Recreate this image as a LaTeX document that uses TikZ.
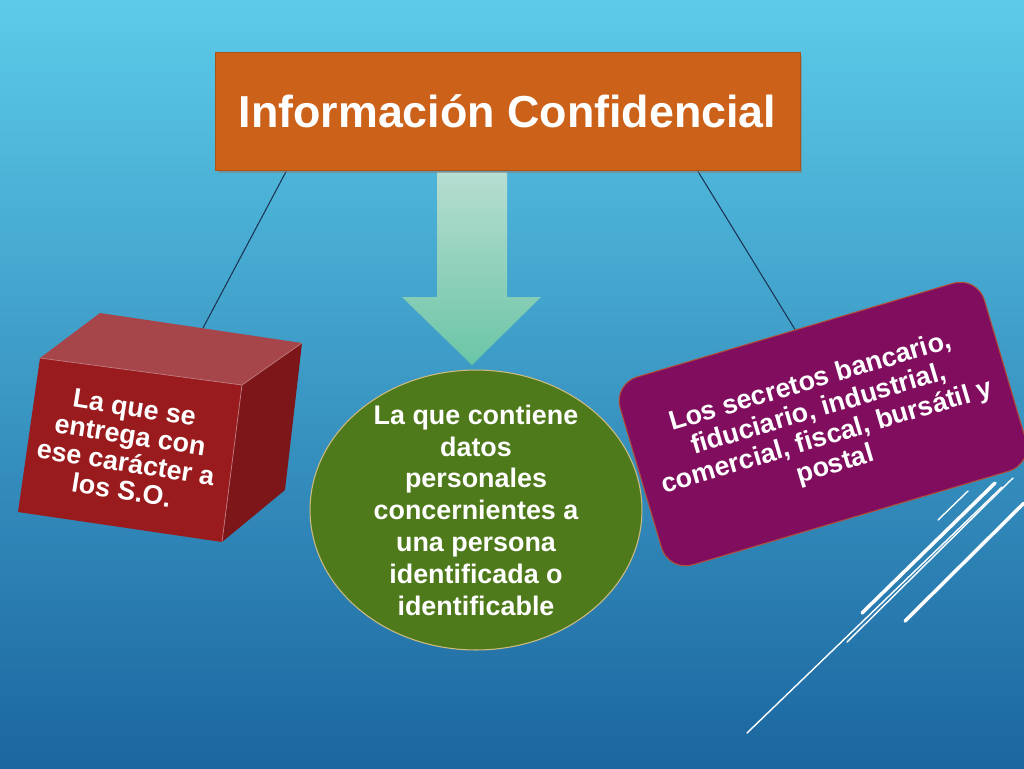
\documentclass[tikz,border=0pt]{standalone}
\usepackage{fontspec}
\setmainfont{Liberation Sans}
\usetikzlibrary{shapes.geometric,shadows,calc}
\definecolor{bgTop}{HTML}{5CCBE9}
\definecolor{bgMid}{HTML}{3A9CCD}
\definecolor{bgBot}{HTML}{1B66A0}
\definecolor{titleOrange}{HTML}{CC6119}
\definecolor{arrowTop}{HTML}{B6DDD1}
\definecolor{arrowBot}{HTML}{6BC5A6}
\definecolor{cubeFront}{HTML}{9A1B1E}
\definecolor{cubeTop}{HTML}{A7464A}
\definecolor{cubeSide}{HTML}{7C1618}
\definecolor{ovalGreen}{HTML}{4F7A1B}
\definecolor{ovalRim}{HTML}{CDBB80}
\definecolor{boxPurple}{HTML}{800D5E}
\definecolor{boxRim}{HTML}{B0503A}
\definecolor{lineNavy}{HTML}{1C3454}
\pgfdeclarelayer{backdrop}
\pgfdeclarelayer{links}
\pgfsetlayers{backdrop,links,main}
\begin{document}
\begin{tikzpicture}
[x=0.02cm,y=-0.02cm,%
  darkLine/.style={-,line width=0.6pt,color=lineNavy},%
  stripeLine/.style={-,color=white,line cap=round},%
  titleDecorate/.style={shape=rectangle,fill=titleOrange,draw=titleOrange!85!black,
    minimum width=11.7cm,minimum height=2.36cm,
    drop shadow={shadow xshift=0.05cm,shadow yshift=-0.07cm,opacity=0.55},
    text=white,font=\bfseries\fontsize{25.5}{30}\selectfont},%
  ovalDecorate/.style={shape=ellipse,fill=ovalGreen,draw=ovalRim,line width=0.6pt,
    minimum width=6.64cm,minimum height=5.6cm,inner sep=0pt},%
  smallText/.style={text=white,align=center,inner sep=0pt},%
  boxDecorate/.style={shape=rectangle,rounded corners=0.5cm,fill=boxPurple,draw=boxRim,
    line width=0.6pt,minimum width=7.6cm,minimum height=3.92cm,rotate=16.5,
    text=white,align=center,font=\bfseries\fontsize{15.3}{16.4}\selectfont}]
\useasboundingbox (0,0) rectangle (1024,768);
%% background
\begin{pgfonlayer}{backdrop}
  \shade[top color=bgTop,middle color=bgMid,bottom color=bgBot] (0,0) rectangle (1024,768);
\end{pgfonlayer}
%% white stripes, bottom right
\foreach \xa/\ya/\xb/\yb/\w in {747/733/1002/487/0.8pt, 862/613/995/483/2pt,
  847/642/1013/478/0.8pt, 905/621/1024/503/2pt, 938/520/968/491/0.8pt}
{
  \draw[stripeLine,line width=\w] (\xa,\ya) -- (\xb,\yb);
}
%% down arrow
\shade[top color=arrowTop,bottom color=arrowBot]
  (437,172) -- (507,172) -- (507,297) -- (541,297) -- (472,365)
  -- (402,297) -- (437,297) -- cycle;
%% nodes
\node (title) at (507.5,111) [titleDecorate] {Información Confidencial};
\node (personal) at (476,510) [ovalDecorate] {};
\node (personaltext) at (personal.center) [smallText,
  font=\bfseries\fontsize{15.3}{18.1}\selectfont]
  {La que contiene\\datos\\personales\\concernientes a\\una persona\\identificada o\\identificable};
\node (secretos) at (823,424) [boxDecorate]
  {Los secretos bancario,\\fiduciario, industrial,\\comercial, fiscal, bursátil y\\postal};
%% cube
\fill[cubeTop] (40,358) -- (100,313) -- (302,343) -- (242,385) -- cycle;
\fill[cubeSide] (242,385) -- (302,343) -- (285,490) -- (222,542) -- cycle;
\fill[cubeFront] (40,358) -- (242,385) -- (222,542) -- (18,512) -- cycle;
\draw[cubeTop!70!white,line width=0.4pt] (40,358) -- (242,385) -- (302,343);
\draw[cubeTop!70!white,line width=0.4pt] (242,385) -- (222,542);
\node (entrega) at (128,449) [smallText,rotate=-9,
  font=\bfseries\fontsize{15.3}{15.9}\selectfont]
  {La que se\\entrega con\\ese carácter a\\los S.O.};
\coordinate (cubeback) at (203,328);
\coordinate (tl) at ($(title.south west)+(72,0)$);
\coordinate (tr) at ($(title.south east)+(-103,0)$);
%% connectors
\begin{pgfonlayer}{links}
\path
\foreach \startnode/\endnode in {tl/cubeback, tr/secretos.north}
{
  (\startnode) edge[darkLine] (\endnode)
};
\end{pgfonlayer}
\end{tikzpicture}
\end{document}
